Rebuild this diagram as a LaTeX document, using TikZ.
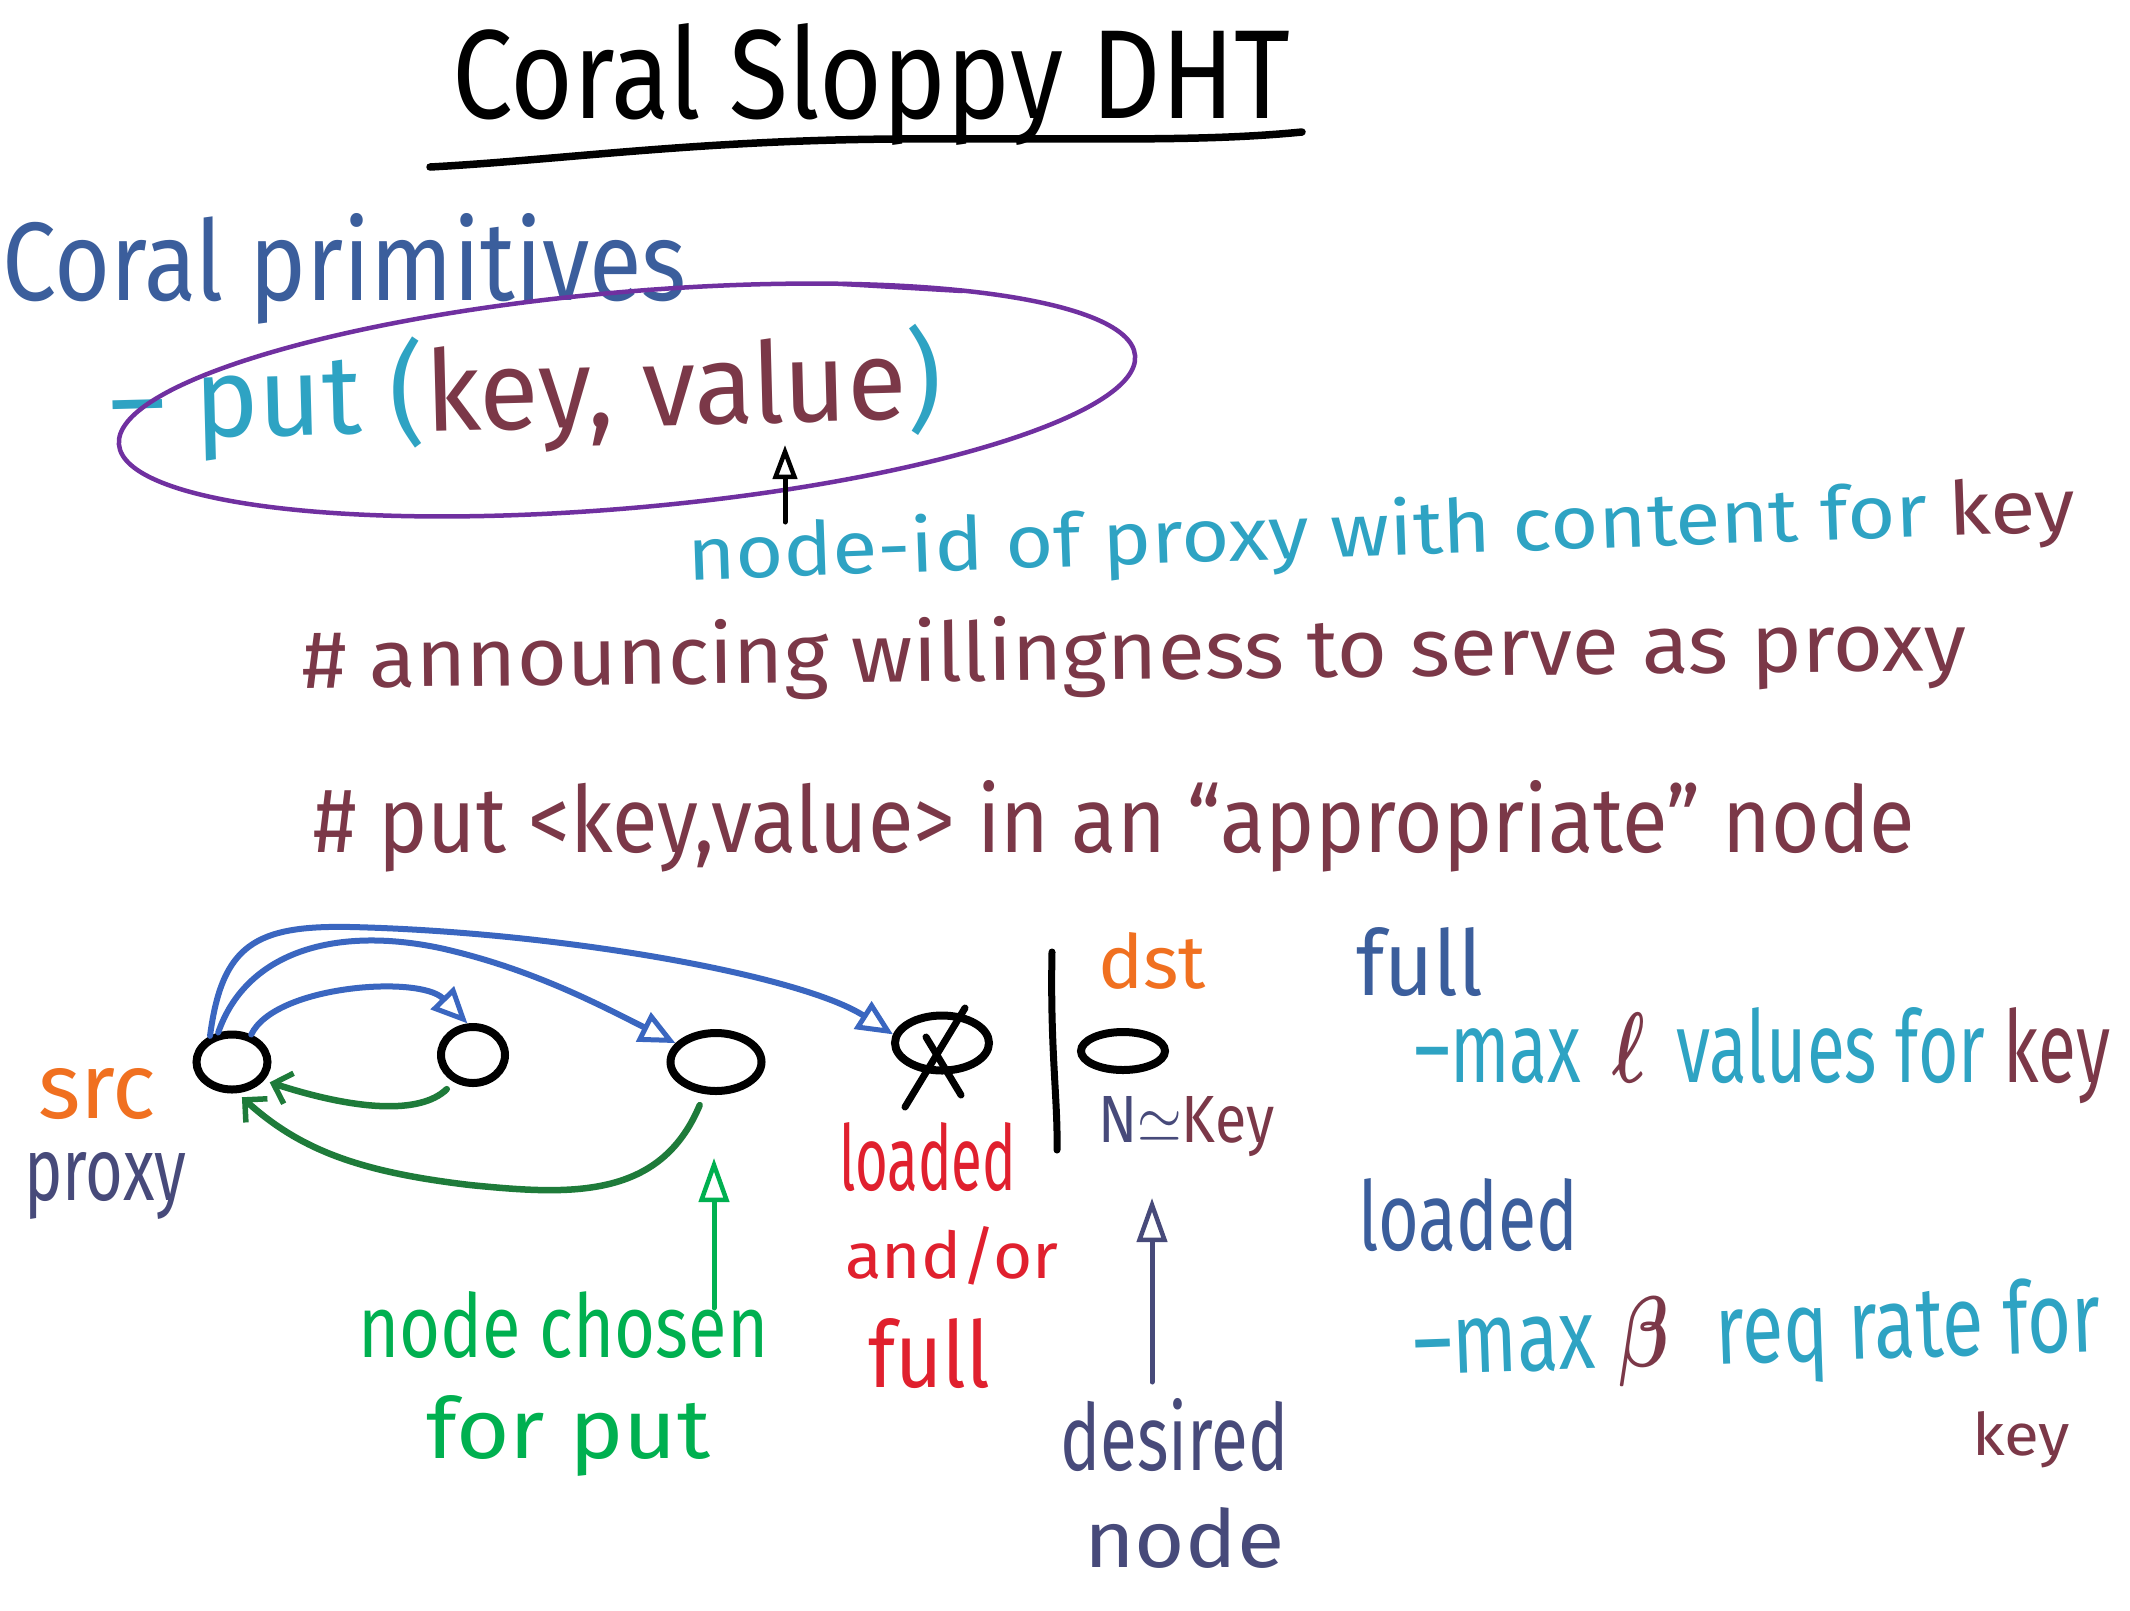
\documentclass[tikz,border=0pt]{standalone}
\usepackage{bm}
\usepackage{fontspec}
\setmainfont{Fira Sans}
\usetikzlibrary{shapes.geometric,arrows.meta}
\definecolor{cblue}{HTML}{3B5E9C}
\definecolor{cteal}{HTML}{2EA3C3}
\definecolor{cmaroon}{HTML}{7B3848}
\definecolor{cpurple}{HTML}{7030A0}
\definecolor{carrow}{HTML}{3A66C0}
\definecolor{cdgreen}{HTML}{1E7B3A}
\definecolor{cbgreen}{HTML}{00B050}
\definecolor{cred}{HTML}{E0202E}
\definecolor{corange}{HTML}{F07020}
\definecolor{cnavy}{HTML}{474A7A}
\newcommand\fitwh[3]{\resizebox{#1pt}{#2pt}{#3}}
\begin{document}
\begin{tikzpicture}[x=1pt,y=-1pt,
  txt/.style={inner sep=0pt, anchor=base west},
  peer/.style={draw=black, ellipse, line width=8pt, inner sep=0pt},
  bluearr/.style={draw=carrow, line width=6pt, line cap=round,
    -{Triangle[open,length=36pt,width=32pt,line width=5pt]}},
  greenarr/.style={draw=cdgreen, line width=6.5pt, line cap=round,
    -{Straight Barb[length=16pt,width=32pt,line width=5.5pt]}},
  uparr/.style={line width=5pt, line cap=round,
    -{Triangle[open,length=44pt,width=30pt,line width=4.5pt]}},
  stroke/.style={line width=7pt, line cap=round}
]
\useasboundingbox (0,0) rectangle (2130,1610);
\fill[white] (0,0) rectangle (2130,1610);

% title
\node[txt] (title) at (452,118) {\fitwh{838}{95}{Coral Sloppy DHT}};
\draw[stroke, line width=7.5pt] (430,167) .. controls (560,160) and (700,140) .. (900,139)
  .. controls (1100,138) and (1200,142) .. (1302,132);

% primitives
\node[txt, text=cblue] (prim) at (2,300) {\fitwh{684}{87}{Coral primitives}};
\node[txt, rotate=1.5] (put) at (110,440) {\fitwh{832}{95}{\textcolor{cteal}{– put (}\textcolor{cmaroon}{key, value}\textcolor{cteal}{)}}};
\draw[cpurple, line width=4.5pt, rotate around={5:(627,400)}] (627,400) ellipse [x radius=510, y radius=108];
\draw[cpurple, line width=4.5pt, line cap=round] (843,284) -- (962,291);

\node[txt, rotate=2] (nid) at (688,580) {\fitwh{1388}{58}{\textcolor{cteal}{node-id of proxy with content for }\textcolor{cmaroon}{key}}};
\coordinate (nidtail) at (785,522);
\coordinate (valtip) at (785,445);
\draw[uparr, -{Triangle[open,length=34pt,width=24pt,line width=4.5pt]}] (nidtail) -- (valtip);

\node[txt, text=cmaroon, rotate=0.6] (ann) at (302,688) {\fitwh{1664}{64}{\# announcing willingness to serve as proxy}};
\node[txt, text=cmaroon] (app) at (313,852) {\fitwh{1602}{72}{\# put <key,value> in an “appropriate” node}};

% peers
\node[peer, minimum width=71pt, minimum height=55pt] (src) at (232,1062) {};
\node[peer, minimum width=64pt, minimum height=56pt] (n2) at (473,1055) {};
\node[peer, minimum width=91pt, minimum height=58pt] (n3) at (716,1062) {};
\node[peer, minimum width=94pt, minimum height=55pt] (n4) at (942,1043) {};
\node[peer, minimum width=84pt, minimum height=38pt] (n5) at (1123,1051) {};
\draw[stroke] (965,1008) -- (905,1107);
\draw[stroke] (926,1037) -- (961,1095);
\draw[stroke] (1052,952) .. controls (1050,1050) and (1058,1100) .. (1057,1150);

% blue arrows
\draw[bluearr] (src.55) .. controls (275,985) and (420,975) .. (n2.100);
\draw[bluearr] (src.115) .. controls (245,955) and (330,925) .. (440,948)
   .. controls (530,968) and (600,1005) .. (n3.155);
\draw[bluearr] (src.130) .. controls (222,945) and (255,925) .. (351,927)
   .. controls (560,932) and (800,975) .. (n4.170);

% green arrows
\draw[greenarr, shorten <=10pt, shorten >=6pt] (n2.235) .. controls (420,1115) and (355,1110) .. (src.-30);
\draw[greenarr, shorten <=12pt, shorten >=6pt] (n3.250) .. controls (660,1200) and (570,1195) .. (470,1185)
   .. controls (360,1172) and (300,1150) .. (src.-80);

% labels
\node[txt, text=corange] (srclbl) at (38,1118) {\fitwh{118}{50}{src}};
\node[txt, text=cnavy] (proxylbl) at (24,1200) {\fitwh{162}{48}{proxy}};
\node[txt, text=corange] (dstlbl) at (1098,988) {\fitwh{108}{56}{dst}};
\node[txt] (nkey) at (1098,1142) {\fitwh{176}{46}{\textcolor{cnavy}{N$\simeq$}\textcolor{cmaroon}{Key}}};

\node[txt, text=cred] (ld) at (839,1190) {\fitwh{177}{68}{loaded}};
\node[txt, text=cred] (andor) at (845,1278) {\fitwh{213}{52}{and/or}};
\node[txt, text=cred] (fl) at (868,1387) {\fitwh{122}{69}{full}};

\node[txt, text=cbgreen] (chosen) at (358,1357) {\fitwh{410}{66}{node chosen}};
\node[txt, text=cbgreen] (forput) at (426,1458) {\fitwh{284}{63}{for put}};
\coordinate (gtail) at (714,1308);
\coordinate (gtip) at (714,1158);
\draw[uparr, draw=cbgreen] (gtail) -- (gtip);

\node[txt, text=cnavy] (desired) at (1060,1470) {\fitwh{228}{72}{desired}};
\node[txt, text=cnavy] (dnode) at (1084,1567) {\fitwh{200}{60}{node}};
\coordinate (ntail) at (1152,1382);
\coordinate (ntip) at (1152,1198);
\draw[uparr, draw=cnavy] (ntail) -- (ntip);

% right column
\node[txt, text=cblue] (fullr) at (1356,995) {\fitwh{127}{68}{full}};
\node[txt] (maxl) at (1414,1082) {\fitwh{696}{75}{\textcolor{cteal}{–max\hspace{0.45em}}\textcolor{cmaroon}{$\bm{\ell}$}\hspace{0.45em}\textcolor{cteal}{values for }\textcolor{cmaroon}{key}}};
\node[txt, text=cblue] (loadedr) at (1358,1250) {\fitwh{220}{72}{loaded}};
\node[txt, rotate=2] (maxb) at (1414,1375) {\fitwh{688}{75}{\textcolor{cteal}{–max\hspace{0.3em}}\textcolor{cmaroon}{$\bm{\beta}$}\hspace{0.6em}\textcolor{cteal}{req rate for}}};
\node[txt, text=cmaroon] (keyr) at (1972,1455) {\fitwh{98}{44}{key}};
\end{tikzpicture}
\end{document}
